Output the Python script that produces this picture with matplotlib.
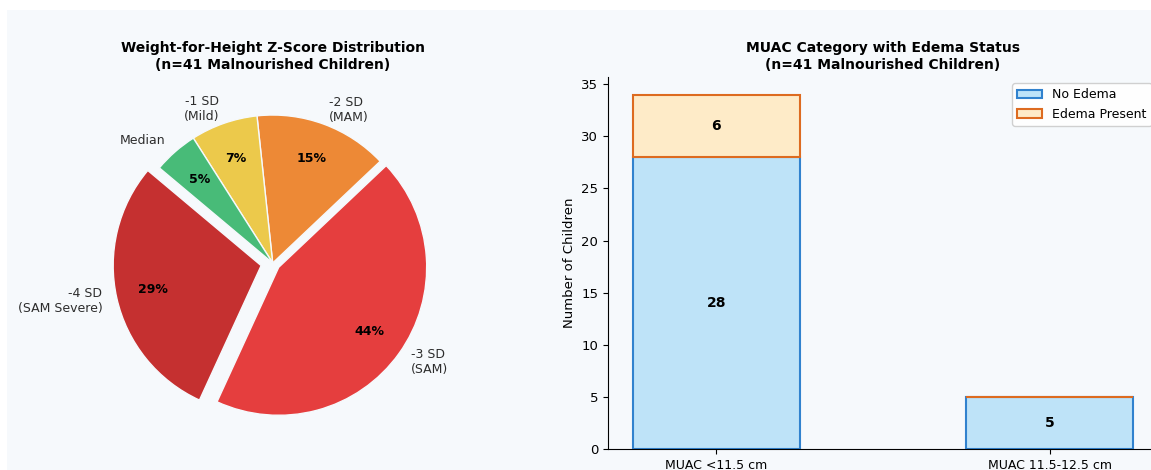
import matplotlib.pyplot as plt
from matplotlib.patches import Rectangle
import numpy as np

# WHZ categories (counts out of 41 children)
whz_labels = ['-4 SD\n(SAM Severe)', '-3 SD\n(SAM)', '-2 SD\n(MAM)', '-1 SD\n(Mild)', 'Median']
whz_counts = [12, 18, 6, 3, 2]
whz_colors = ['#c53030', '#e53e3e', '#ed8936', '#ecc94b', '#48bb78']
whz_explode = [0.08, 0.05, 0, 0, 0]

# MUAC categories split by edema
muac_labels = ['MUAC <11.5 cm', 'MUAC 11.5-12.5 cm']
no_edema = [28, 5]
edema = [6, 0]

bg = '#f6f9fc'
W, H = 1151, 470
fig = plt.figure(figsize=(W / 100, H / 100), dpi=100, facecolor='white')
fig.patches.append(Rectangle((7 / W, 0), 1 - 7 / W, 460 / H, transform=fig.transFigure,
                             facecolor=bg, edgecolor='none', zorder=-10))

# pie
ax1 = fig.add_axes([(272.7 - 186) / W, 21 / H, 372 / W, 372 / H])
ax1.set_facecolor(bg)
wedges, texts, autotexts = ax1.pie(whz_counts, labels=whz_labels, colors=whz_colors,
                                   explode=whz_explode, startangle=140, radius=1,
                                   autopct='%1.0f%%', pctdistance=0.75, labeldistance=1.1,
                                   wedgeprops=dict(edgecolor=bg, linewidth=1),
                                   textprops=dict(fontsize=9, color='#2d2d2d'))
for t in autotexts:
    t.set_fontweight('bold')
    t.set_color('black')
    t.set_fontsize(9)
ax1.set_xlim(-1.257, 1.257)
ax1.set_ylim(-1.257, 1.257)
ax1.set_aspect('equal')
ax1.set_title('Weight-for-Height Z-Score Distribution\n(n=41 Malnourished Children)',
              fontsize=10, fontweight='bold', pad=6)

# stacked bars
ax2 = fig.add_axes([608 / W, 21 / H, 550 / W, 372 / H])
ax2.set_facecolor(bg)
x = np.arange(len(muac_labels))
b1 = ax2.bar(x, no_edema, width=0.5, color='#bee3f8', edgecolor='#3182ce', linewidth=1.5,
             label='No Edema')
b2 = ax2.bar(x, edema, width=0.5, bottom=no_edema, color='#feebc8', edgecolor='#dd6b20',
             linewidth=1.5, label='Edema Present')
for i in range(len(x)):
    if no_edema[i] > 0:
        ax2.text(x[i], no_edema[i] / 2, str(no_edema[i]), ha='center', va='center',
                 fontsize=10, fontweight='bold')
    if edema[i] > 0:
        ax2.text(x[i], no_edema[i] + edema[i] / 2, str(edema[i]), ha='center', va='center',
                 fontsize=10, fontweight='bold')
ax2.set_xticks(x)
ax2.set_xticklabels(muac_labels, fontsize=9)
ax2.tick_params(axis='y', labelsize=9.5)
ax2.set_ylabel('Number of Children', fontsize=9.5)
ax2.set_title('MUAC Category with Edema Status\n(n=41 Malnourished Children)',
              fontsize=10, fontweight='bold', pad=6)
ax2.spines['top'].set_visible(False)
ax2.spines['right'].set_visible(False)
ax2.legend(loc='upper right', fontsize=9, framealpha=0.9)

fig.savefig('out.png', dpi=100, facecolor='white')
